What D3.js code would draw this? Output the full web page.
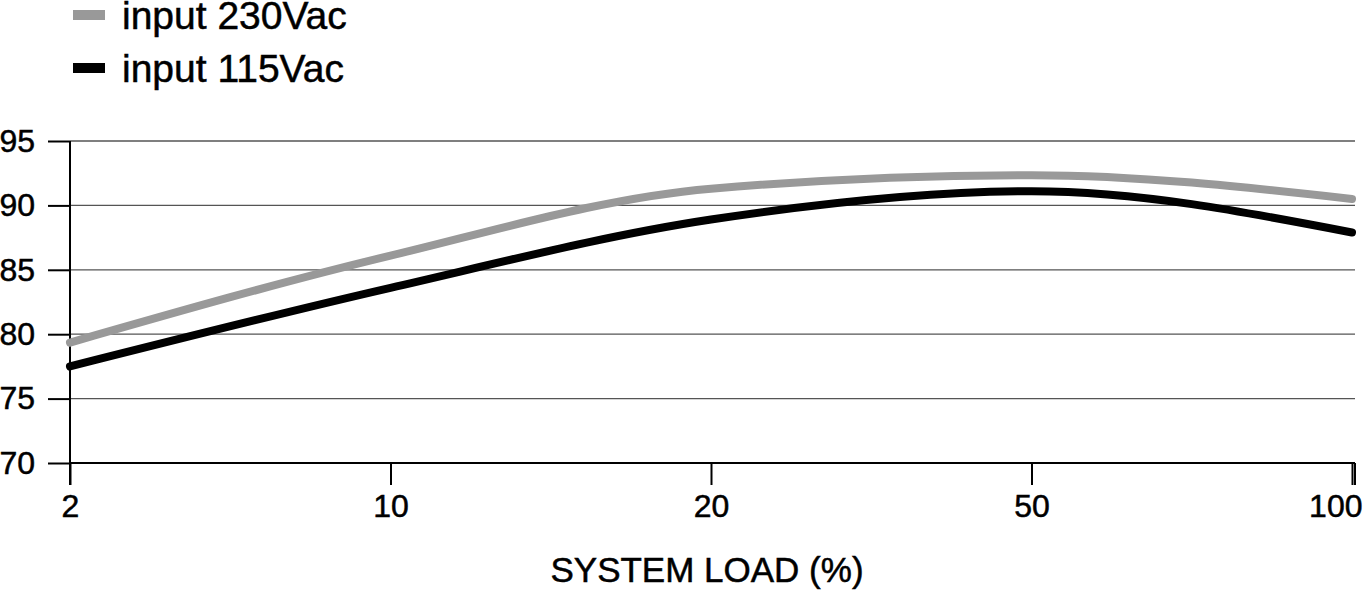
<!DOCTYPE html>
<html>
<head>
<meta charset="utf-8">
<script src="https://cdn.jsdelivr.net/npm/d3@7"></script>
<style>
  html, body { margin: 0; padding: 0; background: #fff; }
  svg { display: block; font-family: "Liberation Sans", Arial, Helvetica, sans-serif; }
  text { stroke: #000; stroke-width: 0.5px; }
</style>
</head>
<body>
<svg id="chart" width="1364" height="591"></svg>
<script>
// ---- data ----
const categories = ["2", "10", "20", "50", "100"];
const series230 = [79.35, 86.1, 91.3, 92.35, 90.5];
const series115 = [77.5, 83.6, 88.9, 91.1, 87.9];
const yTicks = [70, 75, 80, 85, 90, 95];
const seriesNames = ["input 230Vac", "input 115Vac"];
const seriesColors = ["#999999", "#000000"];
const xTitle = "SYSTEM LOAD (%)";

const svg = d3.select("#chart");
const x = d3.scalePoint().domain(categories).range([70, 1352]);
const y = d3.scaleLinear().domain([70, 95]).range([463, 141]);
const rightEdge = 1355;

// gridlines
svg.append("g").selectAll("line").data(yTicks).join("line")
  .attr("x1", 70).attr("x2", rightEdge)
  .attr("y1", d => y(d)).attr("y2", d => y(d))
  .attr("stroke", d => d === 70 ? "#000" : "#555")
  .attr("stroke-width", d => d === 70 ? 2 : 1.3);

// y axis
const yAxis = svg.append("g").attr("transform", "translate(70,0)")
  .call(d3.axisLeft(y).tickValues(yTicks).tickSize(22).tickPadding(13));
yAxis.select(".domain").remove();
yAxis.selectAll(".tick line").attr("stroke", "#000").attr("stroke-width", 2);
yAxis.selectAll(".tick text").attr("font-size", 32).attr("fill", "#000")
  .attr("font-family", "'Liberation Sans', Arial, sans-serif");
svg.append("line").attr("x1", 70).attr("x2", 70)
  .attr("y1", y(95)).attr("y2", 485).attr("stroke", "#000").attr("stroke-width", 2);

// x axis
const xAxis = svg.append("g").attr("transform", `translate(0,${y(70)})`)
  .call(d3.axisBottom(x).tickSize(22).tickPadding(9));
xAxis.select(".domain").remove();
xAxis.selectAll(".tick line").attr("stroke", "#000").attr("stroke-width", 2);
xAxis.selectAll(".tick text").attr("font-size", 32).attr("fill", "#000")
  .attr("font-family", "'Liberation Sans', Arial, sans-serif");
xAxis.selectAll(".tick text").filter(d => d === categories[categories.length - 1])
  .attr("text-anchor", "end").attr("x", 10);
svg.append("line").attr("x1", rightEdge).attr("x2", rightEdge)
  .attr("y1", y(70)).attr("y2", 485).attr("stroke", "#000").attr("stroke-width", 2);

// lines
const line = d3.line()
  .x((d, i) => x(categories[i]))
  .y(d => y(d))
  .curve(d3.curveMonotoneX);

[series230, series115].forEach((s, i) => {
  svg.append("path").datum(s)
    .attr("d", line)
    .attr("fill", "none")
    .attr("stroke", seriesColors[i])
    .attr("stroke-width", 8)
    .attr("stroke-linecap", "round")
    .attr("stroke-linejoin", "round");
});

// x title
svg.append("text").attr("x", 707).attr("y", 582)
  .attr("text-anchor", "middle").attr("font-size", 35).attr("fill", "#000")
  .text(xTitle);

// legend
const legend = svg.append("g");
seriesNames.forEach((name, i) => {
  const cy = 15 + i * 53;
  legend.append("rect").attr("x", 73).attr("y", cy - 5).attr("width", 32).attr("height", 10)
    .attr("fill", seriesColors[i]);
  legend.append("text").attr("x", 122).attr("y", cy + 14)
    .attr("font-size", 39).attr("fill", "#000").text(name);
});
</script>
</body>
</html>
